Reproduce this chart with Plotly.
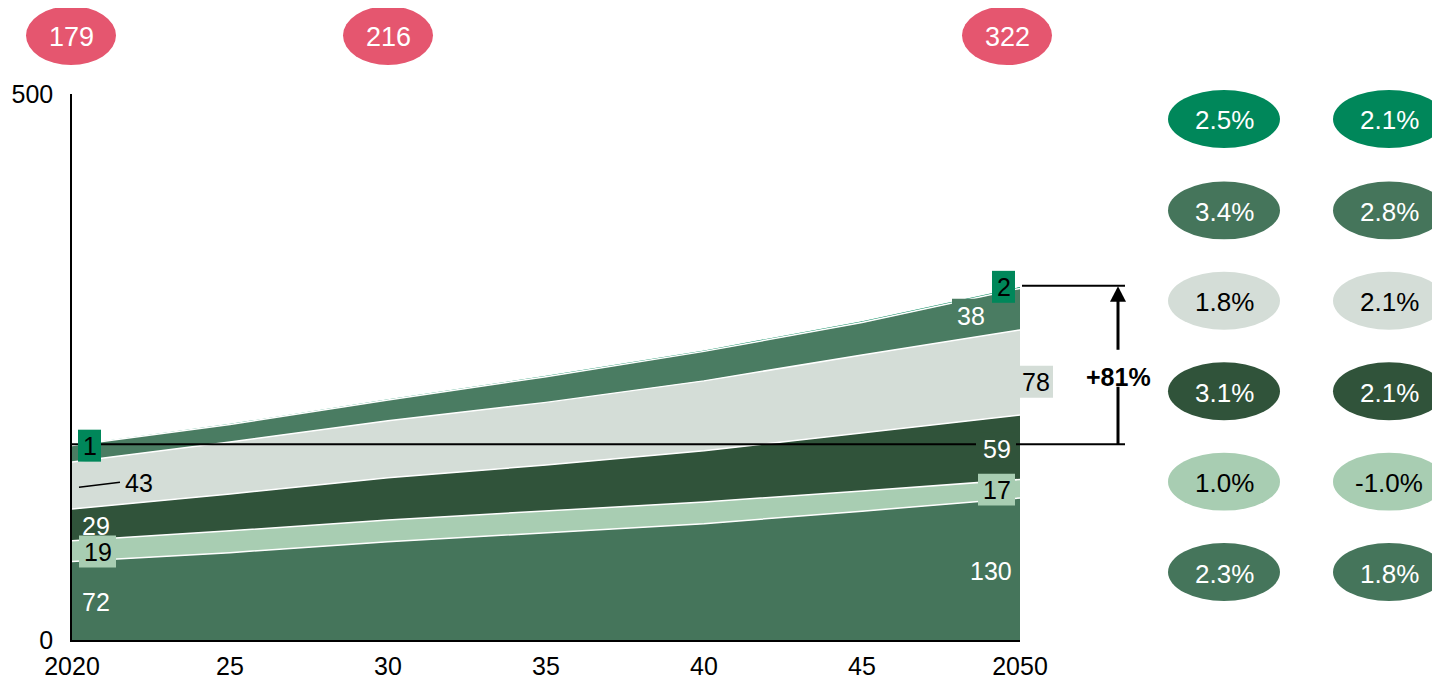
import plotly.graph_objects as go

# ---------------- data ----------------
years = [2020, 2025, 2030, 2035, 2040, 2045, 2050]
seg_base = [72, 80, 90, 98, 106.5, 118, 130]          # bottom
seg_light = [19, 20, 20, 20, 19.8, 18.5, 17]
seg_dark = [29, 33.8, 38.5, 42.3, 47, 53, 59]
seg_grey = [43, 47.6, 52.2, 57.3, 64, 71.5, 78]
seg_mid = [15, 16, 19, 23.5, 27, 29.7, 38]
seg_top = [1, 1.2, 1.4, 1.5, 1.6, 1.8, 2]

totals_years = [2020, 2030, 2050]
totals_labels = ["179", "216", "322"]

cagr_left = ["2.5%", "3.4%", "1.8%", "3.1%", "1.0%", "2.3%"]
cagr_right = ["2.1%", "2.8%", "2.1%", "2.1%", "-1.0%", "1.8%"]

x_tickvals = [2020, 2025, 2030, 2035, 2040, 2045, 2050]
x_ticktext = ["2020", "25", "30", "35", "40", "45", "2050"]

# ---------------- styles ----------------
C_BASE = "#45755b"
C_LIGHT = "#a8cdb2"
C_DARK = "#30533a"
C_GREY = "#d4ddd7"
C_MID = "#4a7c62"
C_TOP = "#00875a"
C_PINK = "#e5566f"
FONT = "Arial, Liberation Sans, sans-serif"

W, H = 1440, 681
OFF = 8                     # page body offset
# plot area in screen pixels
L, R = 72, 1020
T, B = 94, 640.5


def px(x):
    return (x - L) / (R - L)


def py(y):
    return (B - y) / (B - T)


fig = go.Figure()
series = [
    ("Segment 1", seg_base, C_BASE),
    ("Segment 2", seg_light, C_LIGHT),
    ("Segment 3", seg_dark, C_DARK),
    ("Segment 4", seg_grey, C_GREY),
    ("Segment 5", seg_mid, C_MID),
    ("Segment 6", seg_top, C_TOP),
]
for name, vals, col in series:
    fig.add_trace(go.Scatter(
        x=years, y=vals, name=name, mode="lines", stackgroup="one",
        fillcolor=col, line=dict(color="white", width=1.5),
        hoverinfo="x+y+name",
    ))

shapes = []
annotations = []


def text(x, y, s, color, size=25, bold=False):
    annotations.append(dict(xref="paper", yref="paper", x=px(x), y=py(y),
                            text=f"<b>{s}</b>" if bold else s, showarrow=False,
                            xanchor="center", yanchor="middle",
                            font=dict(family=FONT, size=size, color=color)))


def ellipse(cx, cy, w, h, col):
    shapes.append(dict(type="circle", xref="paper", yref="paper",
                       x0=px(cx - w / 2), x1=px(cx + w / 2),
                       y0=py(cy + h / 2), y1=py(cy - h / 2),
                       fillcolor=col, line=dict(width=0), layer="above"))


def rect(x0, x1, y0, y1, col):
    shapes.append(dict(type="rect", xref="paper", yref="paper",
                       x0=px(x0), x1=px(x1), y0=py(y1), y1=py(y0),
                       fillcolor=col, line=dict(width=0), layer="above"))


def hline(x0, x1, y, w=2):
    shapes.append(dict(type="line", xref="paper", yref="paper", x0=px(x0), x1=px(x1),
                       y0=py(y), y1=py(y), line=dict(color="black", width=w), layer="above"))


# total bubbles on top
for cx, lab_ in zip([71, 388, 1007], totals_labels):
    ellipse(cx, 35.5, 90, 59, C_PINK)
    text(cx, 37, lab_, "white", size=27)

# CAGR bubbles
row_y = [119, 210.5, 301, 391.5, 482, 572.5]
row_col = [C_TOP, C_BASE, C_GREY, C_DARK, C_LIGHT, C_BASE]
row_txt = ["white", "white", "black", "white", "black", "white"]
for i, ry in enumerate(row_y):
    for cx, lab_ in ((1224, cagr_left[i]), (1389, cagr_right[i])):
        ellipse(cx, ry, 112, 58, row_col[i])
        text(cx, ry + 1.5, lab_, row_txt[i], size=26)

# reference lines & growth arrow
hline(72, 976, 444.5)
hline(1016, 1125, 444.5)
hline(1022, 1125, 286)
shapes.append(dict(type="line", xref="paper", yref="paper", x0=px(1118), x1=px(1118),
                   y0=py(444.5), y1=py(387), line=dict(color="black", width=3), layer="above"))
shapes.append(dict(type="line", xref="paper", yref="paper", x0=px(1118), x1=px(1118),
                   y0=py(350), y1=py(298), line=dict(color="black", width=3), layer="above"))
shapes.append(dict(type="path", xref="paper", yref="paper",
                   path=f"M {px(1118)} {py(286.5)} L {px(1110)} {py(302)} L {px(1126)} {py(302)} Z",
                   fillcolor="black", line=dict(width=0), layer="above"))
text(1118, 377, "+81%", "black", size=25, bold=True)

# leader line for 43
shapes.append(dict(type="line", xref="paper", yref="paper", x0=px(79), x1=px(120),
                   y0=py(487.5), y1=py(482.5), line=dict(color="black", width=1.5), layer="above"))

# label boxes
rect(78, 101, 430, 462, C_TOP)        # 1
rect(79, 116, 536, 568, C_LIGHT)      # 19
rect(992, 1015, 271, 303, C_TOP)      # 2
rect(952, 992, 299, 333, C_MID)       # 38
rect(1019, 1053, 366, 398, C_GREY)    # 78
rect(977, 1016, 433, 466, C_DARK)     # 59
rect(978, 1015, 474, 506, C_LIGHT)    # 17

# 2020 labels
text(89.5, 446.5, "1", "black")
text(138.5, 483.5, "43", "black")
text(95.5, 526.5, "29", "white")
text(97.5, 552.5, "19", "black")
text(95.5, 602.5, "72", "white")
# 2050 labels
text(1003.5, 287.5, "2", "black")
text(970.5, 316.5, "38", "white")
text(1036, 382.5, "78", "black")
text(997, 449.5, "59", "white")
text(996.5, 490.5, "17", "black")
text(991, 571.5, "130", "white")

fig.update_layout(
    width=W, height=H,
    margin=dict(l=L - OFF, r=W - (R - OFF), t=T - OFF, b=H - (B - OFF), pad=0),
    paper_bgcolor="white", plot_bgcolor="white",
    showlegend=False,
    shapes=shapes, annotations=annotations,
    font=dict(family=FONT, size=25, color="black"),
    xaxis=dict(range=[2020, 2050], tickvals=x_tickvals, ticktext=x_ticktext,
               showgrid=False, zeroline=False, showline=True, linecolor="black",
               linewidth=1.5, ticks="", tickfont=dict(size=25, color="black"),
               ticklabelstandoff=3, automargin=False),
    yaxis=dict(range=[0, 500], tickvals=[0, 500], ticktext=["0", "500"],
               showgrid=False, zeroline=False, showline=True, linecolor="black",
               linewidth=1.5, ticks="", tickfont=dict(size=25, color="black"),
               ticklabelstandoff=12, automargin=False),
)

fig.write_html("out.html")
